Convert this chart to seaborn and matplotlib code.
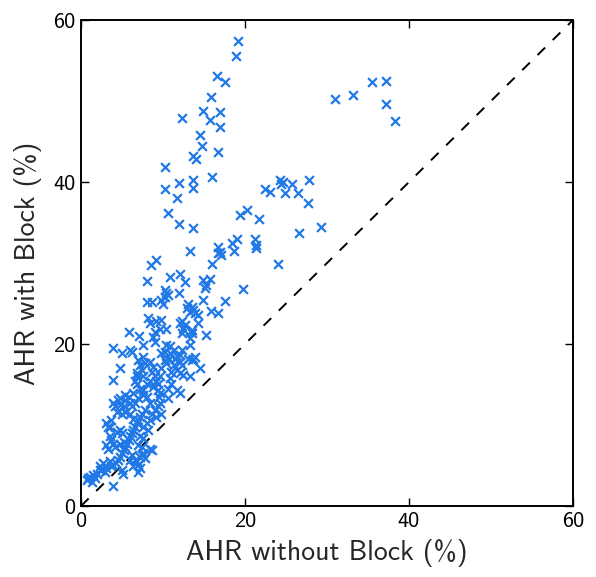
import matplotlib
matplotlib.use("Agg")
import matplotlib.pyplot as plt
import seaborn as sns
import pandas as pd

# ---- data ----
x_vals = [
    19.2, 18.9, 16.6, 17.6, 15.9, 12.3, 14.9, 16.9, 15.7, 17.0, 14.5, 14.7, 13.6, 14.0, 16.7,
    10.3, 16.0, 11.9, 13.6, 13.6, 10.2, 11.7, 10.6, 12.0, 13.6, 13.3, 9.1, 8.5, 16.0,
    16.7, 17.0, 17.1, 16.7, 18.4, 19.0, 18.7, 21.2, 21.3, 21.4, 19.4, 20.2, 21.7, 22.4, 23.0,
    24.3, 24.6, 24.4, 24.9, 25.7, 26.5, 27.8, 27.7, 29.3, 26.6, 24.0,
    31.0, 33.2, 35.5, 37.2, 37.2, 38.3,
    10.8, 12.1, 12.7, 14.9, 15.7, 15.3, 15.1, 10.2, 10.4, 9.8, 10.0, 12.0, 14.9, 19.8, 17.6,
    13.1, 13.5, 13.7, 13.3, 12.9, 15.9, 16.7, 12.3, 12.7, 12.5, 10.4, 9.8, 14.3, 15.3, 13.5,
    8.0, 8.7, 8.0, 10.6, 10.2, 8.2, 8.4, 9.6, 9.2, 5.8, 7.1, 12.1, 12.3, 13.5, 13.3, 14.3, 13.9, 9.0,
    7.6, 8.8, 9.0, 3.9, 5.0, 6.2, 6.0, 10.4, 10.9, 11.3, 10.2, 10.9, 12.3, 12.1, 13.3, 13.1, 13.5,
    13.9, 4.8, 3.9, 7.0, 7.2, 7.4, 6.8, 7.6, 8.4, 8.8, 8.6, 9.0, 8.4, 9.2, 8.8, 9.4, 10.4, 11.3,
    11.5, 12.1, 11.0, 11.7, 12.5, 12.3, 10.9, 13.3, 14.5, 12.1, 11.7, 10.7, 9.8, 10.2, 9.8, 7.6,
    7.8, 6.6, 6.8, 9.6, 9.4, 13.6,
    11.0, 10.6, 11.7, 9.5, 10.6, 12.1, 6.8, 7.2, 6.4, 7.6, 7.0, 5.4, 4.8, 9.6, 8.0, 8.4, 7.8, 8.0,
    7.6, 6.6, 6.2, 5.8, 5.4, 5.2, 4.5, 4.8, 4.2, 4.4, 5.0, 5.4, 6.0, 6.4, 3.9, 6.0, 3.1, 3.3, 3.7,
    8.4, 8.6, 9.0, 9.4, 9.6, 9.2, 9.8, 7.2, 7.4, 7.0,
    0.7, 1.1, 1.5, 1.9, 1.3, 0.9, 2.3, 2.7, 2.5, 3.1, 2.9, 3.7, 3.9, 4.3, 3.5, 3.9, 5.1, 5.0, 6.4,
    7.0, 6.8, 7.2, 7.0, 8.6, 8.4, 7.4, 7.8, 3.1, 3.3, 3.5, 3.7, 3.9, 4.1,
    4.5, 4.8, 5.0, 5.2, 5.4, 5.6, 5.8, 6.0, 6.2, 6.4, 6.6, 6.8,
    4.8, 5.0, 4.4, 3.5, 4.8, 5.2, 7.2, 7.6, 7.0, 7.4, 6.2, 6.6, 6.0, 8.0, 7.6, 8.2, 7.6, 7.2, 1.7, 2.3,
]
y_vals = [
    57.4, 55.5, 53.1, 52.4, 50.5, 47.9, 48.8, 48.6, 47.6, 46.8, 45.8, 44.5, 43.2, 42.9, 43.7,
    41.8, 40.6, 39.9, 40.3, 39.3, 39.1, 38.0, 36.2, 34.8, 34.3, 31.5, 30.4, 29.7, 29.9,
    32.0, 31.4, 31.0, 31.2, 32.5, 33.0, 31.5, 33.0, 32.2, 31.8, 35.9, 36.6, 35.4, 39.1, 38.8,
    40.3, 40.0, 39.8, 38.6, 39.7, 38.6, 40.3, 37.4, 34.4, 33.7, 29.9,
    50.3, 50.7, 52.3, 52.5, 49.6, 47.5,
    28.3, 28.7, 27.7, 27.9, 28.0, 27.3, 26.9, 26.7, 26.3, 25.4, 25.0, 26.3, 25.4, 26.8, 25.3,
    25.0, 24.6, 24.2, 24.0, 24.4, 24.1, 23.8, 22.9, 22.3, 21.9, 21.9, 23.0, 22.6, 21.1, 21.7,
    25.2, 25.2, 27.8, 26.0, 25.8, 23.2, 22.6, 21.9, 22.8, 21.5, 21.0, 22.6, 21.3, 21.3, 20.7, 23.6, 23.8, 21.5,
    19.9, 20.9, 20.3, 19.5, 18.9, 19.0, 19.3, 19.9, 19.7, 19.3, 19.0, 18.9, 19.3, 18.6, 19.9, 18.2, 18.0,
    18.4, 17.0, 15.6, 18.0, 17.4, 16.8, 16.4, 16.0, 17.8, 17.2, 16.6, 16.0, 15.4, 15.4, 14.7, 14.3, 17.6, 17.4,
    18.2, 17.8, 16.6, 16.8, 16.2, 17.4, 15.8, 16.0, 17.0, 16.4, 18.5, 18.2, 18.9, 18.0, 17.0, 18.4,
    17.6, 15.4, 16.0, 16.0, 15.1, 18.2,
    15.1, 14.5, 14.3, 13.5, 13.3, 13.9, 15.1, 14.5, 13.9, 13.7, 13.3, 13.7, 13.3, 13.9, 13.5, 12.7, 11.9, 15.1,
    14.3, 12.7, 12.3, 13.5, 13.1, 12.3, 13.1, 12.5, 12.3, 11.6, 11.4, 11.6, 11.4, 10.8, 12.7, 12.7, 10.2, 9.8, 10.6,
    10.6, 11.4, 11.9, 12.3, 12.7, 11.0, 11.4, 11.0, 11.4, 10.6,
    3.2, 3.6, 3.8, 4.0, 3.0, 3.4, 4.9, 5.3, 4.4, 4.7, 4.2, 4.9, 5.1, 5.3, 5.5, 2.5, 4.0, 4.4, 4.9,
    5.1, 5.5, 4.7, 4.2, 6.9, 7.1, 6.3, 5.9, 7.5, 7.1, 8.6, 8.1, 7.7, 7.3,
    5.7, 6.1, 6.5, 6.9, 7.3, 7.7, 8.1, 8.6, 9.0, 9.4, 9.8, 10.2,
    9.4, 9.0, 9.2, 9.8, 7.7, 7.9, 8.6, 8.4, 7.5, 7.3, 6.3, 5.7, 5.7, 10.2, 9.8, 9.4, 6.5, 6.1, 3.4, 4.4,
]
diag = [0, 60]
ticks = [0, 20, 40, 60]
x_label = "AHR without Block (%)"
y_label = "AHR with Block (%)"

df = pd.DataFrame({"x": x_vals, "y": y_vals})

sns.set_style("ticks")
plt.rcParams["font.family"] = ["cmss10", "DejaVu Sans"]
plt.rcParams["axes.unicode_minus"] = False
plt.rcParams["mathtext.fontset"] = "cm"

fig = plt.figure(figsize=(5.96, 5.77), dpi=100)
ax = fig.add_axes([0.1359, 0.1230, 0.8255, 0.8423])

sns.scatterplot(data=df, x="x", y="y", marker="x", color="#1f78e6",
                s=40, linewidth=1.6, ax=ax, zorder=3)
sns.lineplot(x=diag, y=diag, color="black", linestyle=(0, (5.5, 5.5)),
             linewidth=1.4, ax=ax, zorder=2)

ax.set_xlim(0, 60)
ax.set_ylim(0, 60)
ax.set_xticks(ticks)
ax.set_yticks(ticks)
ax.set_xticklabels([str(t) for t in ticks])
ax.set_yticklabels([str(t) for t in ticks])
ax.tick_params(direction="in", top=True, right=True, length=6, width=1,
               labelsize=16, pad=4, colors="black")
for sp in ax.spines.values():
    sp.set_linewidth(1.4)
    sp.set_color("black")
ax.set_xlabel(x_label, fontsize=20, labelpad=6)
ax.set_ylabel(y_label, fontsize=20, labelpad=8)

fig.savefig("out.png", dpi=100)
